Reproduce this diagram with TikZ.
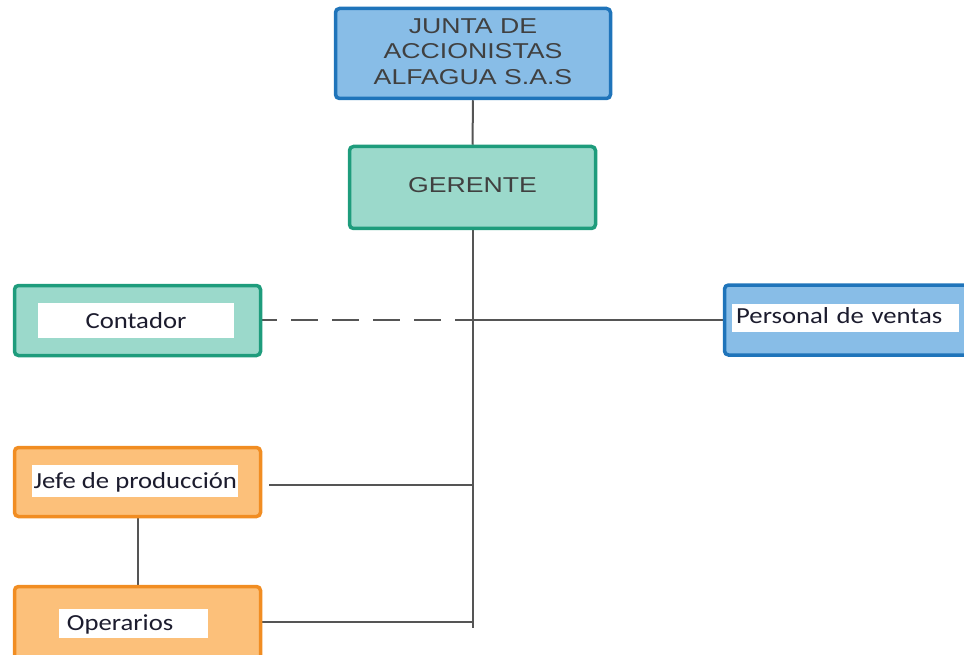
\documentclass[tikz,border=0pt]{standalone}
\usepackage{fontspec}
\usetikzlibrary{backgrounds}
\newfontfamily\hdrfont[FakeStretch=1.24]{Liberation Sans}
\newfontfamily\lblfont[FakeStretch=1.16]{Carlito}
\definecolor{bluefill}{HTML}{88BDE7}
\definecolor{blueedge}{HTML}{1F74BA}
\definecolor{tealfill}{HTML}{9BD9CB}
\definecolor{tealedge}{HTML}{1E9C7C}
\definecolor{orgfill}{HTML}{FCC07A}
\definecolor{orgedge}{HTML}{F18D22}
\definecolor{linegray}{HTML}{555555}
\definecolor{hdrtext}{HTML}{404040}
\definecolor{lbltext}{HTML}{1C1C2E}
\tikzset{
  orgbox/.style={rectangle, rounded corners=4pt, line width=3.5pt, inner sep=0pt},
  bluebox/.style={orgbox, draw=blueedge, fill=bluefill},
  tealbox/.style={orgbox, draw=tealedge, fill=tealfill},
  orangebox/.style={orgbox, draw=orgedge, fill=orgfill},
  hdrtxt/.style={font=\hdrfont\fontsize{21.5}{25.5}\selectfont, text=hdrtext, align=center},
  whitelbl/.style={rectangle, fill=white, inner ysep=0pt, text=lbltext,
    font=\lblfont\fontsize{23}{26}\selectfont},
  link/.style={draw=linegray, line width=2pt},
}
\begin{document}
\begin{tikzpicture}[x=1pt, y=-1pt]
\useasboundingbox (0,0) rectangle (964,655);
\clip (0,0) rectangle (964,655);

% top levels
\node[bluebox, hdrtxt, minimum width=275pt, minimum height=90pt, text depth=4.6pt]
  (junta) at (473,53.5) {JUNTA DE\\ACCIONISTAS\\ALFAGUA S.A.S};
\node[tealbox, hdrtxt, minimum width=246pt, minimum height=82pt, text depth=5.6pt]
  (gerente) at (472.5,187.5) {GERENTE};

% staff and line positions
\node[tealbox, minimum width=246pt, minimum height=70pt] (contador) at (137.5,320.5) {};
\node[bluebox, minimum width=260pt, minimum height=70pt] (ventas) at (854.5,320) {};
\node[orangebox, minimum width=246pt, minimum height=69pt] (jefe) at (137.5,482) {};
\node[orangebox, minimum width=246pt, minimum height=80pt] (operarios) at (137.5,626.5) {};

% white label strips
\node[whitelbl, anchor=base, minimum width=196pt, text height=25.3pt, text depth=9.7pt]
  (contadorlbl) at (136,328.3) {Contador};
\node[whitelbl, anchor=base west, inner xsep=4pt, text width=219pt, align=left,
  text height=19.3pt, text depth=8.7pt]
  (ventaslbl) at (732,323.3) {Personal de ventas};
\node[whitelbl, anchor=base, minimum width=206pt, inner xsep=0pt, text height=23.3pt, text depth=8.4pt]
  (jefelbl) at (135.3,488.3) {Jefe de producción};
\node[whitelbl, anchor=base west, inner xsep=8.4pt, text width=133pt, align=left,
  text height=20.7pt, text depth=8.3pt]
  (operarioslbl) at (58.3,630) {Operarios};

% junction points on the trunk
\coordinate (trunkend) at (473,628);
\coordinate (jstaff) at (473,320);
\coordinate (jjefe) at (473,485);
\coordinate (jjefestart) at (269,485);
\coordinate (joper) at (473,622);

\begin{scope}[on background layer]
  \draw[link] (junta.south) -- (gerente.north);
  \draw[link] (gerente.south -| trunkend) -- (trunkend);
  \draw[link, dash pattern=on 27pt off 14pt, dash phase=12pt] (contador.east |- jstaff) -- (jstaff);
  \draw[link] (jstaff) -- (ventas.west |- jstaff);
  \draw[link] (jjefestart) -- (jjefe);
  \draw[link] (operarios.east |- joper) -- (joper);
  \draw[link] (jefe.south -| 138,0) -- (operarios.north -| 138,0);
\end{scope}
\end{tikzpicture}
\end{document}
